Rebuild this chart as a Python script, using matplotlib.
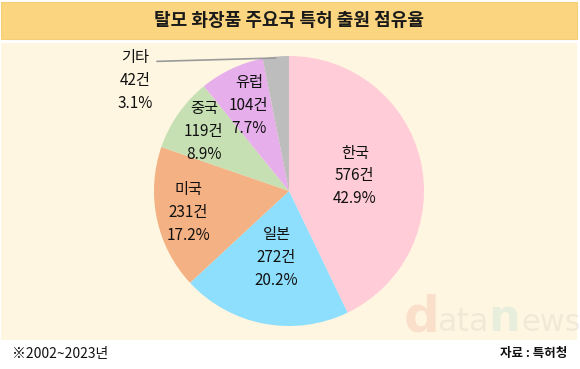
import matplotlib
matplotlib.use("Agg")
import matplotlib.pyplot as plt
import numpy as np
from matplotlib.patches import Rectangle

plt.rcParams['font.family'] = ['Noto Sans CJK KR', 'DejaVu Sans']

countries = ['한국', '일본', '미국', '중국', '유럽', '기타']
counts = [576, 272, 231, 119, 104, 42]
shares = ['42.9%', '20.2%', '17.2%', '8.9%', '7.7%', '3.1%']
colors = ['#FFCCD8', '#8EDEFE', '#F4B183', '#C6E0B4', '#E6AEEB', '#BDBDBD']
title = '탈모 화장품 주요국 특허 출원 점유율'
note = '※2002~2023년'
source = '자료 : 특허청'

W, H = 580, 369
fig = plt.figure(figsize=(W / 100, H / 100), dpi=100)
fig.patch.set_facecolor('white')

bg = fig.add_axes([0, 0, 1, 1])
bg.set_xlim(0, W)
bg.set_ylim(H, 0)
bg.axis('off')
bg.add_patch(Rectangle((1, 43), 576, 297, facecolor='#FEF6E0', edgecolor='none'))
bg.add_patch(Rectangle((1, 2), 576, 37, facecolor='#FBD57F', edgecolor='#F5CE78', lw=0.8))
bg.text(289, 21, title, ha='center', va='center', fontsize=13, fontweight='bold', color='#1a1a1a')
bg.text(12, 354, note, ha='left', va='center', fontsize=10, color='#111111')
bg.text(567, 354, source, ha='right', va='center', fontsize=9, fontweight='bold', color='#111111')

# watermark
wm = dict(va='baseline', fontfamily='DejaVu Sans', alpha=0.35)
bg.text(404, 331, 'd', fontsize=36, color='#F4B8A6', fontweight='bold', **wm)
bg.text(437, 331, 'ata', fontsize=23, color='#D9D2C6', **wm)
bg.text(488, 331, 'n', fontsize=32, color='#BFE0D6', fontweight='bold', **wm)
bg.text(521, 331, 'ews', fontsize=22, color='#D9D2C6', **wm)

cx, cy, r = 289, 191, 135
ax = fig.add_axes([(cx - r) / W, (H - cy - r) / H, 2 * r / W, 2 * r / H])
wedges, _ = ax.pie(counts, colors=colors, startangle=90, counterclock=False,
                   wedgeprops=dict(linewidth=0))
ax.set_xlim(-1, 1)
ax.set_ylim(-1, 1)
ax.set_aspect('equal')
ax.axis('off')

dists = [0.5, 0.5, 0.76, 0.77, 0.7]
for w, name, c, s, d in zip(wedges, countries, counts, shares, dists):
    th = np.deg2rad((w.theta1 + w.theta2) / 2)
    x, y = d * np.cos(th), d * np.sin(th)
    ax.text(x, y, f'{name}\n{c}건\n{s}', ha='center', va='center', fontsize=11,
            fontweight='medium', color='#111111', linespacing=1.45)

# 기타 external label
w = wedges[-1]
th = np.deg2rad((w.theta1 + w.theta2) / 2)
px, py = 0.99 * np.cos(th), 0.99 * np.sin(th)
ax.annotate(f'{countries[-1]}\n{counts[-1]}건\n{shares[-1]}', xy=(px, py),
            xytext=(-1.14, 0.82), ha='center', va='center', fontsize=11,
            fontweight='medium', color='#111111', linespacing=1.45, annotation_clip=False,
            arrowprops=dict(arrowstyle='-', color='#9A9A9A', lw=1.2,
                            relpos=(1.0, 0.8), shrinkA=1, shrinkB=0))

fig.savefig('out.png', dpi=100, facecolor='white')
